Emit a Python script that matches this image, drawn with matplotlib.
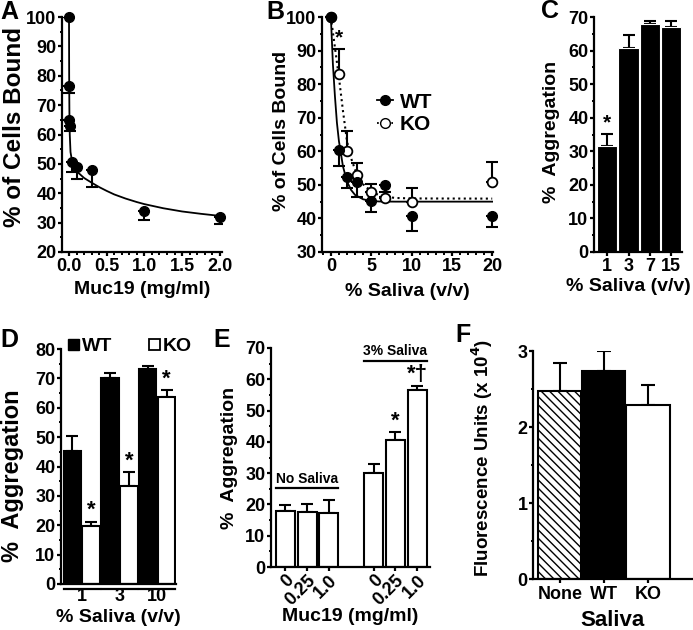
import numpy as np
from matplotlib import pyplot as plt
from matplotlib import rc
import matplotlib.ticker as mticker
from matplotlib.lines import Line2D
from matplotlib.patches import Patch

rc('font', family='Liberation Sans', weight='bold', size=13)
rc('axes', linewidth=1.6, labelweight='bold')
rc('xtick.major', width=1.6, size=3, pad=1.5)
rc('ytick.major', width=1.6, size=3, pad=1)
rc('xtick.minor', width=1.4, size=1.8)
rc('ytick.minor', width=1.4, size=1.8)
rc('hatch', linewidth=1.0)

# --- A: binding vs Muc19 ---
muc_conc = [0, 0.002, 0.005, 0.01, 0.04, 0.11, 0.31, 1.0, 2.0]
muc_bound = [100, 76.5, 64.8, 62.8, 50.7, 49.0, 47.8, 33.8, 31.8]
muc_err = [0, 2.4, 0, 1.6, 3.5, 4.3, 5.7, 3.0, 2.3]
muc_fit_x = [0, 0.002, 0.005, 0.01, 0.02, 0.05, 0.1, 0.2, 0.3, 0.4, 0.5, 0.6, 0.75,
             0.9, 1.0, 1.25, 1.5, 1.75, 2.0]
muc_fit_y = [100, 80, 68, 60, 54, 49.5, 47.5, 45.2, 43.6, 42.1, 40.8, 39.6, 38.2,
             37.0, 36.3, 34.9, 33.8, 33.0, 32.3]

# --- B: binding vs saliva ---
saliva_pct = [0, 1, 2, 3.3, 5, 6.7, 10, 20]
wt_bound = [100, 60.5, 52.2, 51.0, 45.2, 50.0, 40.6, 40.6]
wt_err = [0, 5.0, 3.0, 4.5, 3.4, 3.5, 4.3, 3.3]
ko_bound = [100, 83.0, 60.2, 52.8, 48.0, 46.0, 45.0, 51.0]
ko_err = [0, 7.5, 5.8, 3.8, 2.3, 2.0, 4.0, 5.7]
wt_fit_x = [0, 0.25, 0.5, 0.75, 1, 1.5, 2, 2.5, 3, 4, 5, 6, 8, 20]
wt_fit_y = [100, 86, 76.5, 68.5, 63, 55.5, 51, 48.5, 47, 45.7, 45.2, 45.05, 45, 45]
ko_fit_x = [0, 0.5, 1, 1.5, 2, 2.5, 3, 3.5, 4, 5, 6, 7, 8, 10, 20]
ko_fit_y = [100, 91, 82, 72, 63, 58, 54.5, 52, 50.2, 48, 46.9, 46.4, 46.1, 45.95, 45.9]

# --- C: aggregation vs saliva ---
c_labels = ['1', '3', '7', '15']
c_vals = [31.5, 60.7, 68.0, 67.0]
c_err = [3.7, 3.8, 0.9, 1.9]

# --- D: WT vs KO aggregation ---
d_labels = ['1', '3', '10']
d_wt = [45.3, 70.0, 73.2]
d_wt_err = [5.0, 2.0, 1.0]
d_ko = [19.8, 33.5, 63.7]
d_ko_err = [1.4, 4.5, 2.3]

# --- E: Muc19 with/without saliva ---
e_doses = ['0', '0.25', '1.0']
e_none = [18.0, 17.5, 17.3]
e_none_err = [1.8, 2.5, 4.2]
e_sal = [30.2, 40.5, 56.5]
e_sal_err = [2.6, 2.5, 1.5]

# --- F: fluorescence ---
f_labels = ['None', 'WT', 'KO']
f_vals = [2.48, 2.74, 2.29]
f_err = [0.36, 0.26, 0.26]

W, H = 693., 630.
fig = plt.figure(figsize=(W / 100, H / 100), dpi=100)


def box(l, t, r, b):
    return [l / W, 1 - b / H, (r - l) / W, (b - t) / H]


def prism(ax):
    ax.spines['top'].set_visible(False)
    ax.spines['right'].set_visible(False)
    ax.tick_params(which='both', direction='out')


def letter(x, y, s):
    fig.text(x / W, 1 - y / H, s, fontsize=18, fontweight='bold', ha='center', va='center')


# A
axA = fig.add_axes(box(62, 17, 222, 252))
prism(axA)
axA.plot(muc_fit_x, muc_fit_y, '-', color='k', lw=1.3, zorder=2)
axA.errorbar(muc_conc, muc_bound, yerr=[muc_err, np.zeros(len(muc_err))], fmt='none',
             ecolor='k', elinewidth=1.5, capsize=4, capthick=1.5, zorder=3)
axA.plot(muc_conc, muc_bound, 'o', color='k', ms=7, zorder=4, clip_on=False)
axA.set_xlim(-0.093, 2.03)
axA.set_ylim(20, 100)
axA.xaxis.set_major_locator(mticker.MultipleLocator(0.5))
axA.xaxis.set_minor_locator(mticker.MultipleLocator(0.1))
axA.xaxis.set_major_formatter(mticker.FormatStrFormatter('%.1f'))
axA.yaxis.set_major_locator(mticker.MultipleLocator(10))
axA.yaxis.set_minor_locator(mticker.MultipleLocator(5))
axA.set_xlabel('Muc19 (mg/ml)', fontsize=14)
axA.set_ylabel('% of Cells Bound', fontsize=17.5)
axA.xaxis.set_label_coords(0.5, -0.125)
axA.yaxis.set_label_coords(-0.225, 0.53)

# B
axB = fig.add_axes(box(322, 17, 493, 252))
prism(axB)
axB.plot(wt_fit_x, wt_fit_y, '-', color='k', lw=1.3, zorder=2)
axB.plot(ko_fit_x, ko_fit_y, ':', color='k', lw=1.5, zorder=2)
axB.errorbar(saliva_pct, wt_bound, yerr=[wt_err, np.zeros(len(wt_err))], fmt='none',
             ecolor='k', elinewidth=1.5, capsize=4, capthick=1.5, zorder=3, clip_on=False)
axB.errorbar(saliva_pct, ko_bound, yerr=[np.zeros(len(ko_err)), ko_err], fmt='none',
             ecolor='k', elinewidth=1.5, capsize=4, capthick=1.5, zorder=3, clip_on=False)
axB.plot(saliva_pct, ko_bound, 'o', mfc='white', mec='k', mew=1.3, ms=7, zorder=4, clip_on=False)
axB.plot(saliva_pct, wt_bound, 'o', color='k', ms=7, zorder=5, clip_on=False)
axB.text(saliva_pct[1], ko_bound[1] + ko_err[1] + 0.3, '*', fontsize=15, ha='center', va='bottom')
axB.set_xlim(-1.1, 20.1)
axB.set_ylim(30, 100)
axB.xaxis.set_major_locator(mticker.MultipleLocator(5))
axB.xaxis.set_minor_locator(mticker.MultipleLocator(1))
axB.yaxis.set_major_locator(mticker.MultipleLocator(10))
axB.yaxis.set_minor_locator(mticker.MultipleLocator(5))
axB.set_xlabel('% Saliva (v/v)', fontsize=14)
axB.set_ylabel('% of Cells Bound', fontsize=14)
axB.xaxis.set_label_coords(0.5, -0.13)
axB.yaxis.set_label_coords(-0.19, 0.515)
hB = [Line2D([], [], color='k', ls='-', marker='o', ms=7, lw=1.3),
      Line2D([], [], color='k', ls=':', marker='o', ms=7, mfc='white', lw=1.3)]
axB.legend(hB, ['WT', 'KO'], loc='center left', bbox_to_anchor=(0.32, 0.59), frameon=False,
           handlelength=0.8, handletextpad=0.3, fontsize=15, labelspacing=0.15, borderpad=0,
           borderaxespad=0)

# C
axC = fig.add_axes(box(594, 17, 682, 252))
prism(axC)
xc = np.arange(len(c_vals))
axC.errorbar(xc, c_vals, yerr=[np.zeros(len(c_err)), c_err], fmt='none',
             ecolor='k', elinewidth=1.5, capsize=4, capthick=1.5, zorder=1)
axC.bar(xc, c_vals, width=0.95, color='k', edgecolor='white', lw=0.8, zorder=2)
axC.text(xc[0], c_vals[0] + c_err[0] + 0.3, '*', fontsize=15, ha='center', va='bottom')
axC.set_xlim(-0.62, 3.5)
axC.set_ylim(0, 70)
axC.set_xticks(xc)
axC.set_xticklabels(c_labels)
axC.yaxis.set_major_locator(mticker.MultipleLocator(10))
axC.yaxis.set_minor_locator(mticker.MultipleLocator(5))
axC.set_xlabel('% Saliva (v/v)', fontsize=14)
axC.set_ylabel('%  Aggregation', fontsize=14)
axC.xaxis.set_label_coords(0.39, -0.11)
axC.yaxis.set_label_coords(-0.39, 0.51)

# D
axD = fig.add_axes(box(61, 349, 176, 584))
prism(axD)
xd = np.arange(len(d_wt)) * 2
axD.errorbar(xd, d_wt, yerr=[np.zeros(len(d_wt_err)), d_wt_err], fmt='none',
             ecolor='k', elinewidth=1.5, capsize=4, capthick=1.5, zorder=1)
axD.errorbar(xd + 1, d_ko, yerr=[np.zeros(len(d_ko_err)), d_ko_err], fmt='none',
             ecolor='k', elinewidth=1.5, capsize=4, capthick=1.5, zorder=1)
axD.bar(xd, d_wt, width=0.92, color='k', edgecolor='k', lw=1.5, zorder=2)
axD.bar(xd + 1, d_ko, width=0.92, color='white', edgecolor='k', lw=1.5, zorder=2)
for i in range(len(d_ko)):
    axD.text(xd[i] + 1, d_ko[i] + d_ko_err[i] + 0.3, '*', fontsize=16, ha='center', va='bottom')
    axD.plot([xd[i] - 0.45, xd[i] + 1.45], [-0.022, -0.022], color='k', lw=1.6,
             transform=axD.get_xaxis_transform(), clip_on=False)
axD.set_xlim(-0.6, 5.5)
axD.set_ylim(0, 80)
axD.set_xticks(xd + 0.5)
axD.set_xticklabels(d_labels)
axD.tick_params(axis='x', length=0, pad=3)
axD.yaxis.set_major_locator(mticker.MultipleLocator(10))
axD.yaxis.set_minor_locator(mticker.MultipleLocator(5))
axD.set_xlabel('% Saliva (v/v)', fontsize=14)
axD.set_ylabel('%  Aggregation', fontsize=17)
axD.xaxis.set_label_coords(0.5, -0.105)
axD.yaxis.set_label_coords(-0.32, 0.46)
hD = [Patch(facecolor='k', edgecolor='k'), Patch(facecolor='white', edgecolor='k', lw=1.3)]
axD.legend(hD, ['WT', 'KO'], ncol=2, loc='upper left', bbox_to_anchor=(0.06, 1.045),
           frameon=False, handlelength=0.55, handleheight=0.55, handletextpad=0.15,
           columnspacing=1.9, fontsize=14, borderaxespad=0, borderpad=0)

# E
axE = fig.add_axes(box(271, 348, 430, 567))
prism(axE)
xe_none = np.arange(3)
xe_sal = np.arange(3) + 4.1
axE.errorbar(xe_none, e_none, yerr=[np.zeros(3), e_none_err], fmt='none',
             ecolor='k', elinewidth=1.5, capsize=4, capthick=1.5, zorder=1)
axE.errorbar(xe_sal, e_sal, yerr=[np.zeros(3), e_sal_err], fmt='none',
             ecolor='k', elinewidth=1.5, capsize=4, capthick=1.5, zorder=1)
axE.bar(xe_none, e_none, width=0.88, color='white', edgecolor='k', lw=1.5, zorder=2)
axE.bar(xe_sal, e_sal, width=0.88, color='white', edgecolor='k', lw=1.5, zorder=2)
axE.text(xe_sal[1], e_sal[1] + e_sal_err[1] + 0.3, '*', fontsize=16, ha='center', va='bottom')
axE.text(xe_sal[2], e_sal[2] + e_sal_err[2] + 0.3, '*\u2020', fontsize=16, ha='center', va='bottom')
axE.plot([xe_none[0] - 0.44, xe_none[2] + 0.44], [25.2, 25.2], color='k', lw=1.6)
axE.text(xe_none[1], 26.0, 'No Saliva', fontsize=10, ha='center', va='bottom')
axE.plot([xe_sal[0] - 0.44, xe_sal[2] + 0.44], [66.0, 66.0], color='k', lw=1.6, clip_on=False)
axE.text(xe_sal[1], 66.8, '3% Saliva', fontsize=10, ha='center', va='bottom')
axE.set_xlim(-0.67, 6.7)
axE.set_ylim(0, 70)
axE.set_xticks(np.concatenate([xe_none, xe_sal]))
axE.set_xticklabels(e_doses + e_doses, rotation=45, ha='right', va='top', rotation_mode='anchor')
axE.tick_params(axis='x', pad=0.5)
axE.yaxis.set_major_locator(mticker.MultipleLocator(10))
axE.yaxis.set_minor_locator(mticker.MultipleLocator(5))
axE.set_xlabel('Muc19 (mg/ml)', fontsize=14)
axE.set_ylabel('%  Aggregation', fontsize=14)
axE.xaxis.set_label_coords(0.5, -0.185)
axE.yaxis.set_label_coords(-0.21, 0.5)

# F
axF = fig.add_axes(box(533, 351, 692, 579))
prism(axF)
xf = np.arange(3)
axF.errorbar(xf, f_vals, yerr=[np.zeros(3), f_err], fmt='none',
             ecolor='k', elinewidth=1.5, capsize=5, capthick=1.5, zorder=1)
axF.bar(xf[0], f_vals[0], width=0.98, color='white', edgecolor='k', hatch='\\\\\\\\', lw=1.5, zorder=2)
axF.bar(xf[1], f_vals[1], width=0.98, color='k', edgecolor='k', lw=1.5, zorder=2)
axF.bar(xf[2], f_vals[2], width=0.98, color='white', edgecolor='k', lw=1.5, zorder=2)
axF.set_xlim(-0.61, 3.0)
axF.set_ylim(0, 3)
axF.set_xticks(xf)
axF.set_xticklabels(f_labels)
axF.tick_params(axis='x', pad=2)
axF.yaxis.set_major_locator(mticker.MultipleLocator(1))
axF.yaxis.set_minor_locator(mticker.MultipleLocator(0.5))
axF.set_xlabel('Saliva', fontsize=16)
axF.set_ylabel('Fluorescence Units (x 10$^4$)', fontsize=13.5)
axF.xaxis.set_label_coords(0.5, -0.138)
axF.yaxis.set_label_coords(-0.24, 0.53)

letter(9, 12, 'A')
letter(275, 12, 'B')
letter(550, 11, 'C')
letter(9, 340, 'D')
letter(222, 340, 'E')
letter(463, 335, 'F')

fig.savefig('out.png', dpi=100)
